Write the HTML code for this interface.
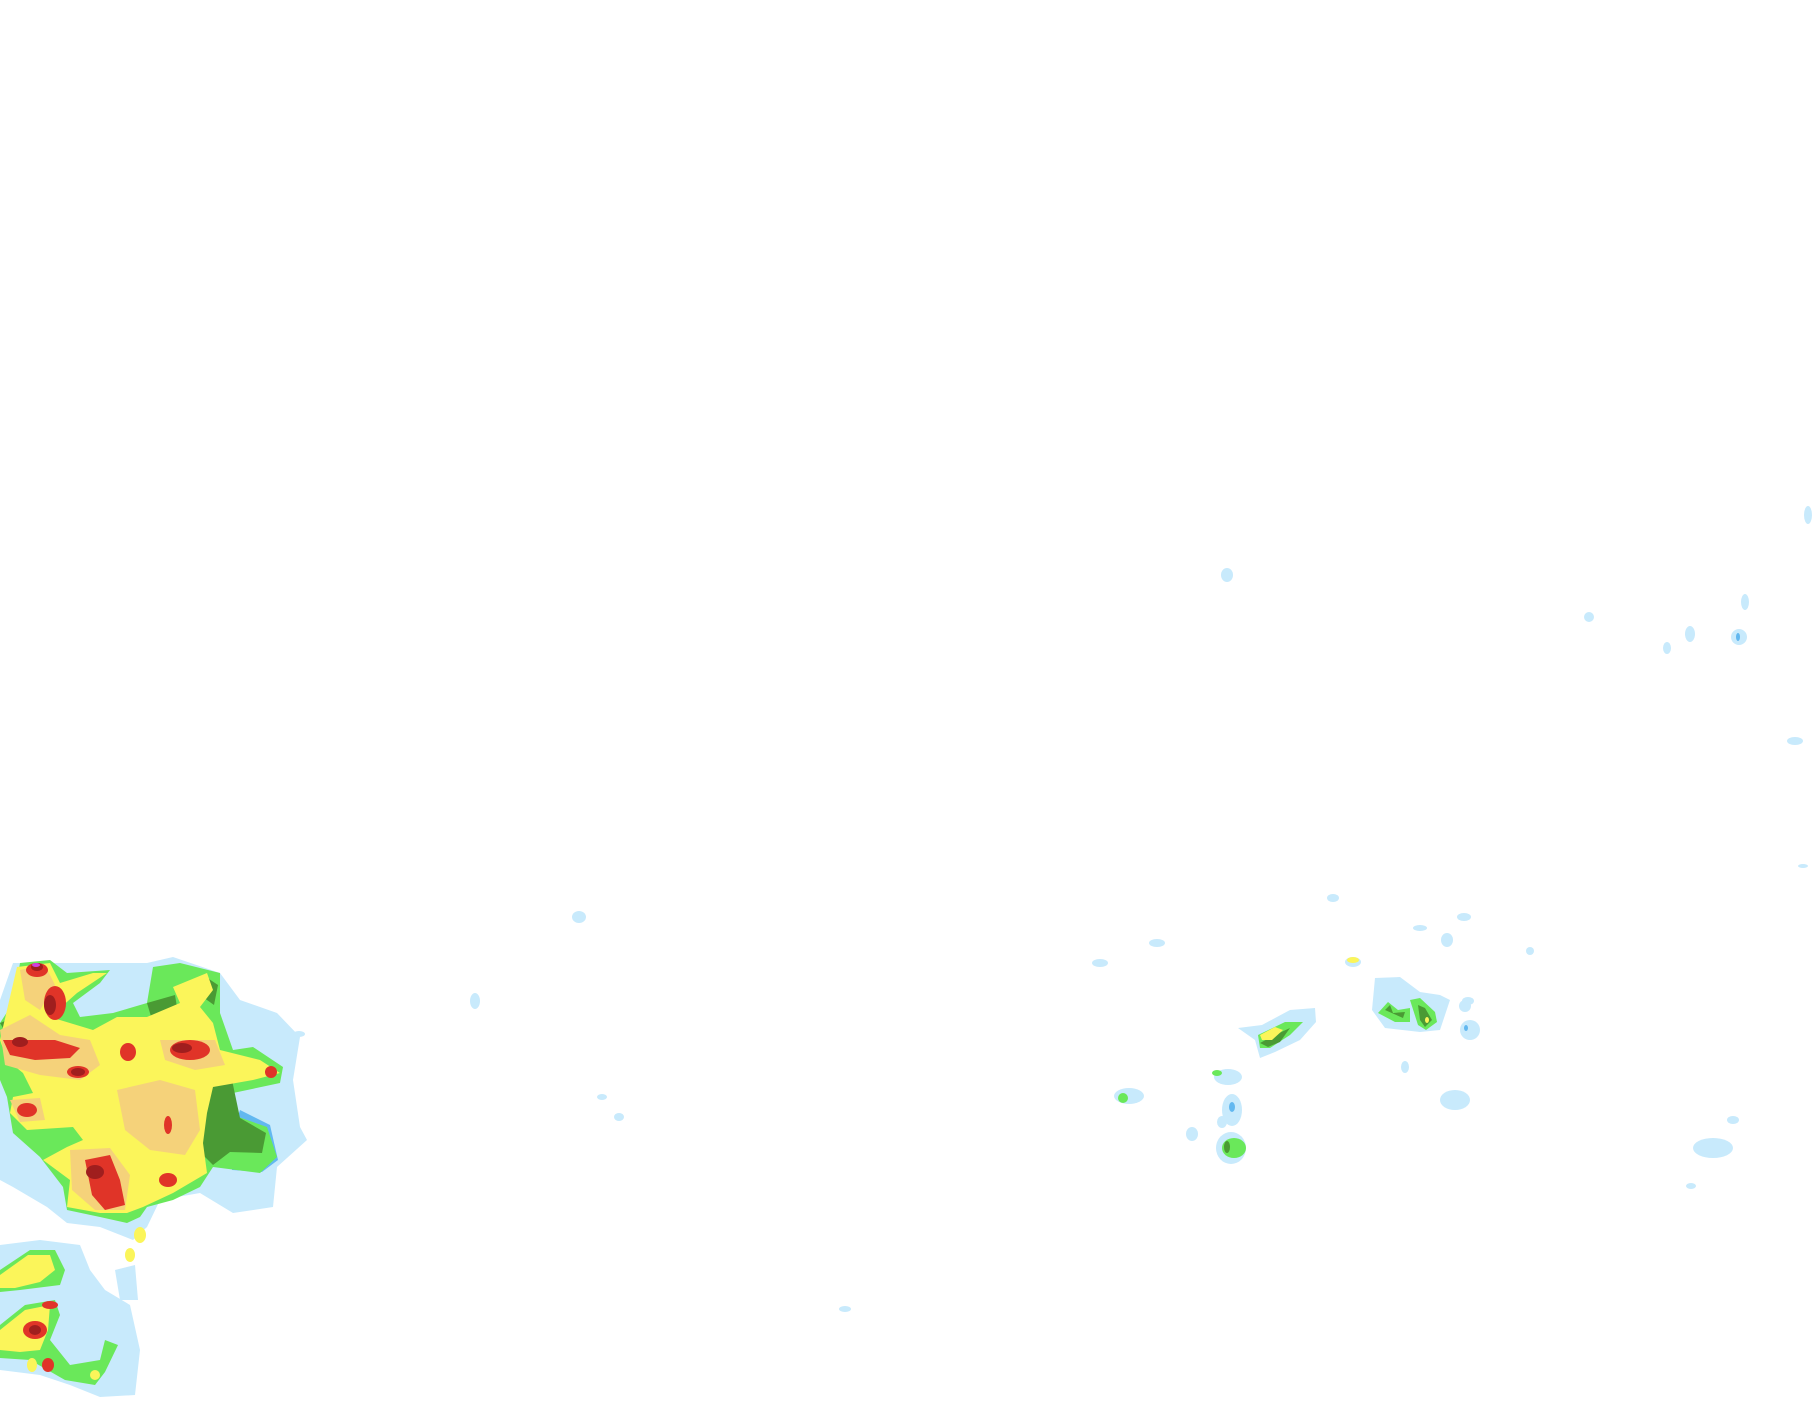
<!DOCTYPE html>
<html><head><meta charset="utf-8"><style>html,body{margin:0;padding:0;background:#fff}svg{display:block}</style></head>
<body>
<svg width="1815" height="1424" viewBox="0 0 1815 1424" xmlns="http://www.w3.org/2000/svg">
<rect width="1815" height="1424" fill="#fff"/>
<!-- main mass light blue -->
<polygon fill="#c8eafc" points="0,1000 13,963 110,963 147,963 173,957 220,973 240,1000 277,1013 300,1037 293,1080 300,1127 307,1140 277,1167 273,1207 233,1213 200,1193 160,1200 147,1227 133,1240 100,1227 67,1223 47,1207 13,1187 0,1180"/>
<polygon fill="#62b8f0" points="240,1110 270,1125 278,1160 262,1172 232,1170 230,1140"/>
<!-- green -->
<polygon fill="#6ae85a" points="0,1023 13,1003 20,963 50,960 67,973 110,970 100,983 73,1003 80,1017 113,1013 147,1003 153,967 180,963 220,973 220,1013 233,1050 253,1047 283,1067 280,1083 233,1093 227,1113 267,1127 277,1157 260,1173 213,1167 200,1187 173,1200 147,1207 140,1217 127,1223 100,1217 67,1210 63,1187 40,1157 13,1133 7,1097 0,1080"/>
<!-- dark green -->
<polygon fill="#4a9a34" points="207,1087 232,1080 240,1118 266,1133 262,1153 230,1152 213,1165 198,1150 205,1115"/>
<polygon fill="#4a9a34" points="147,1003 175,995 180,1025 155,1030"/>
<polygon fill="#4a9a34" points="133,1073 155,1070 145,1085"/>
<polygon fill="#4a9a34" points="203,975 218,985 214,1005 200,995"/>
<polygon fill="#4a9a34" points="0,1023 20,1015 10,1040"/>
<!-- yellow -->
<polygon fill="#fbf55a" points="0,1040 17,967 50,963 60,983 93,973 107,973 77,993 50,1017 93,1030 117,1017 147,1017 180,1003 173,987 207,973 213,990 200,1007 213,1023 220,1050 260,1060 280,1073 253,1080 213,1087 207,1113 203,1143 207,1173 173,1193 143,1207 127,1213 100,1213 67,1207 70,1180 43,1160 67,1147 83,1140 73,1127 27,1130 10,1113 13,1097 33,1093 23,1073 7,1060"/>
<!-- orange-ish -->
<polygon fill="#f5d27a" points="117,1090 160,1080 195,1090 200,1130 185,1155 150,1150 125,1130"/>
<polygon fill="#f5d27a" points="0,1030 30,1015 60,1035 90,1040 100,1065 80,1080 40,1075 5,1065"/>
<polygon fill="#f5d27a" points="20,970 45,965 55,985 40,1010 25,1000"/>
<polygon fill="#f5d27a" points="70,1150 110,1148 130,1175 125,1210 95,1210 72,1190"/>
<polygon fill="#f5d27a" points="160,1040 215,1040 225,1065 195,1070 165,1060"/>
<polygon fill="#f5d27a" points="10,1100 40,1098 45,1120 20,1122"/>
<!-- red -->
<ellipse cx="55" cy="1003" rx="11" ry="17" fill="#e03428"/>
<polygon fill="#e03428" points="3,1040 30,1040 55,1040 80,1048 70,1058 35,1060 10,1055"/>
<ellipse cx="190" cy="1050" rx="20" ry="10" fill="#e03428"/>
<ellipse cx="128" cy="1052" rx="8" ry="9" fill="#e03428"/>
<ellipse cx="78" cy="1072" rx="11" ry="6" fill="#e03428"/>
<ellipse cx="27" cy="1110" rx="10" ry="7" fill="#e03428"/>
<polygon fill="#e03428" points="85,1160 110,1155 120,1180 125,1205 105,1210 92,1195 88,1175"/>
<ellipse cx="168" cy="1180" rx="9" ry="7" fill="#e03428"/>
<ellipse cx="37" cy="970" rx="11" ry="7" fill="#e03428"/>
<ellipse cx="271" cy="1072" rx="6" ry="6" fill="#e03428"/>
<ellipse cx="168" cy="1125" rx="4" ry="9" fill="#e03428"/>
<!-- dark red -->
<ellipse cx="50" cy="1005" rx="6" ry="10" fill="#a01e1e"/>
<ellipse cx="20" cy="1042" rx="8" ry="5" fill="#a01e1e"/>
<ellipse cx="182" cy="1048" rx="10" ry="5" fill="#a01e1e"/>
<ellipse cx="78" cy="1072" rx="7" ry="4" fill="#a01e1e"/>
<ellipse cx="95" cy="1172" rx="9" ry="7" fill="#a01e1e"/>
<ellipse cx="37" cy="967" rx="6" ry="4" fill="#a01e1e"/>
<ellipse cx="36" cy="965" rx="4" ry="2" fill="#d040e0"/>
<!-- lower clusters -->
<polygon fill="#c8eafc" points="0,1245 40,1240 80,1245 90,1270 105,1290 130,1305 140,1350 135,1395 100,1397 70,1385 40,1375 0,1370"/>
<polygon fill="#c8eafc" points="115,1270 135,1265 138,1300 120,1300"/>
<polygon fill="#6ae85a" points="0,1270 30,1250 55,1250 65,1270 60,1285 20,1290 0,1292"/>
<polygon fill="#fbf55a" points="0,1275 28,1255 50,1255 55,1270 40,1282 15,1288 0,1288"/>
<polygon fill="#6ae85a" points="0,1325 25,1305 55,1300 60,1315 50,1340 70,1365 100,1360 105,1340 118,1345 105,1372 95,1385 65,1380 30,1360 0,1358"/>
<polygon fill="#fbf55a" points="0,1330 25,1310 50,1305 48,1330 40,1350 20,1352 0,1350"/>
<ellipse cx="35" cy="1330" rx="12" ry="9" fill="#e03428"/>
<ellipse cx="35" cy="1330" rx="6" ry="5" fill="#a01e1e"/>
<ellipse cx="50" cy="1305" rx="8" ry="4" fill="#e03428"/>
<ellipse cx="32" cy="1365" rx="5" ry="7" fill="#fbf55a"/>
<ellipse cx="48" cy="1365" rx="6" ry="7" fill="#e03428"/>
<ellipse cx="95" cy="1375" rx="5" ry="5" fill="#fbf55a"/>
<ellipse cx="140" cy="1235" rx="6" ry="8" fill="#fbf55a"/>
<ellipse cx="130" cy="1255" rx="5" ry="7" fill="#fbf55a"/>
<!-- right clusters -->
<g fill="#c8eafc">
<polygon points="1238,1028 1262,1025 1290,1010 1315,1008 1316,1022 1300,1040 1275,1052 1260,1058 1255,1040"/>
<polygon points="1375,978 1400,977 1420,992 1440,995 1450,1000 1440,1030 1420,1032 1385,1028 1372,1010"/>
<ellipse cx="1470" cy="1030" rx="10" ry="10"/>
<ellipse cx="1465" cy="1006" rx="6" ry="6"/>
<ellipse cx="1455" cy="1100" rx="15" ry="10"/>
<ellipse cx="1231" cy="1148" rx="15" ry="16"/>
<ellipse cx="1228" cy="1077" rx="14" ry="8"/>
<ellipse cx="1232" cy="1110" rx="10" ry="16"/>
<ellipse cx="1129" cy="1096" rx="15" ry="8"/>
<ellipse cx="1192" cy="1134" rx="6" ry="7"/>
<ellipse cx="1222" cy="1122" rx="5" ry="6"/>
<ellipse cx="1405" cy="1067" rx="4" ry="6"/>
<ellipse cx="1713" cy="1148" rx="20" ry="10"/>
<ellipse cx="1733" cy="1120" rx="6" ry="4"/>
<ellipse cx="1691" cy="1186" rx="5" ry="3"/>
<ellipse cx="1227" cy="575" rx="6" ry="7"/>
<ellipse cx="1808" cy="515" rx="4" ry="9"/>
<ellipse cx="1745" cy="602" rx="4" ry="8"/>
<ellipse cx="1690" cy="634" rx="5" ry="8"/>
<ellipse cx="1739" cy="637" rx="8" ry="8"/>
<ellipse cx="1667" cy="648" rx="4" ry="6"/>
<ellipse cx="1589" cy="617" rx="5" ry="5"/>
<ellipse cx="1795" cy="741" rx="8" ry="4"/>
<ellipse cx="1803" cy="866" rx="5" ry="2"/>
<ellipse cx="579" cy="917" rx="7" ry="6"/>
<ellipse cx="475" cy="1001" rx="5" ry="8"/>
<ellipse cx="602" cy="1097" rx="5" ry="3"/>
<ellipse cx="619" cy="1117" rx="5" ry="4"/>
<ellipse cx="845" cy="1309" rx="6" ry="3"/>
<ellipse cx="1100" cy="963" rx="8" ry="4"/>
<ellipse cx="1157" cy="943" rx="8" ry="4"/>
<ellipse cx="1333" cy="898" rx="6" ry="4"/>
<ellipse cx="1353" cy="962" rx="8" ry="5"/>
<ellipse cx="1420" cy="928" rx="7" ry="3"/>
<ellipse cx="1464" cy="917" rx="7" ry="4"/>
<ellipse cx="1447" cy="940" rx="6" ry="7"/>
<ellipse cx="1530" cy="951" rx="4" ry="4"/>
<ellipse cx="1468" cy="1001" rx="6" ry="4"/>
<ellipse cx="299" cy="1034" rx="6" ry="3"/>
</g>
<polygon fill="#6ae85a" points="1258,1035 1285,1022 1303,1022 1290,1035 1270,1048 1260,1048"/>
<polygon fill="#4a9a34" points="1260,1043 1275,1035 1290,1028 1280,1042 1268,1047"/>
<polygon fill="#fbf55a" points="1260,1035 1275,1027 1283,1030 1272,1040 1262,1040"/>
<polygon fill="#6ae85a" points="1378,1013 1388,1002 1398,1010 1410,1008 1410,1022 1395,1022"/>
<polygon fill="#4a9a34" points="1385,1010 1390,1005 1393,1013 1405,1012 1403,1018"/>
<polygon fill="#6ae85a" points="1410,1000 1420,998 1435,1012 1437,1022 1426,1030 1418,1025"/>
<polygon fill="#4a9a34" points="1418,1005 1425,1008 1432,1020 1425,1027 1420,1020"/>
<ellipse cx="1427" cy="1020" rx="2" ry="3" fill="#fbf55a"/>
<ellipse cx="1234" cy="1148" rx="12" ry="10" fill="#6ae85a"/>
<ellipse cx="1227" cy="1147" rx="3" ry="6" fill="#4a9a34"/>
<ellipse cx="1123" cy="1098" rx="5" ry="5" fill="#6ae85a"/>
<ellipse cx="1217" cy="1073" rx="5" ry="3" fill="#6ae85a"/>
<ellipse cx="1232" cy="1107" rx="3" ry="5" fill="#62b8f0"/>
<ellipse cx="1353" cy="960" rx="6" ry="3" fill="#fbf55a"/>
<ellipse cx="1466" cy="1028" rx="2" ry="3" fill="#62b8f0"/>
<ellipse cx="1738" cy="637" rx="2" ry="4" fill="#62b8f0"/>
</svg>
</body></html>
